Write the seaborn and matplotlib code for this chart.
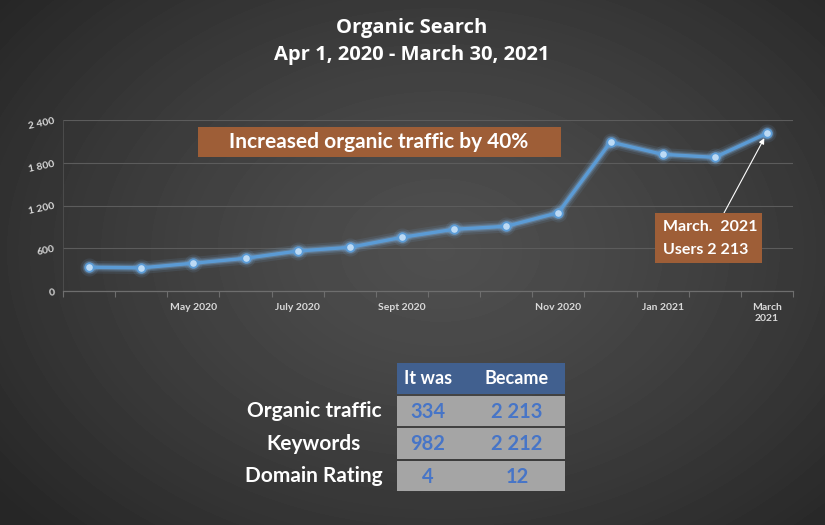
import numpy as np
import pandas as pd
import matplotlib
matplotlib.use("Agg")
import matplotlib.pyplot as plt
from matplotlib.patches import Rectangle
import seaborn as sns

# ---- data ----
months = ["Mar 2020", "Apr 2020", "May 2020", "Jun 2020", "Jul 2020", "Aug 2020",
          "Sep 2020", "Oct 2020", "Oct 2020b", "Nov 2020", "Dec 2020", "Jan 2021",
          "Feb 2021", "Mar 2021"]
users = [334, 325, 390, 459, 561, 613, 753, 866, 908, 1099, 2091, 1918, 1876, 2213]
tick_labels = ["", "", "May 2020", "", "July 2020", "", "Sept 2020", "", "",
               "Nov 2020", "", "Jan 2021", "", "March\n2021"]
y_ticks = [0, 600, 1200, 1800, 2400]

table_rows = ["Organic traffic", "Keywords", "Domain Rating"]
table_cols = ["It was", "Became"]
it_was = [334, 982, 4]
became = [2213, 2212, 12]

title_lines = ["Organic Search", "Apr 1, 2020 - March 30, 2021"]
banner_text = "Increased organic traffic by 40%"


def fmt(v):
    return f"{v:,}".replace(",", " ")


sns.set_theme(style="white")
plt.rcParams["font.family"] = ["Lato", "DejaVu Sans"]

W, H = 825, 525
fig = plt.figure(figsize=(W / 100, H / 100), dpi=100)
fig.patch.set_facecolor("#333333")


def fx(px):
    return px / W


def fy(py):
    return 1 - py / H


# radial dark-grey backdrop
yy, xx = np.mgrid[0:H, 0:W]
r = np.sqrt(((xx - 440) / 560.0) ** 2 + ((yy - 250) / 400.0) ** 2)
shade = 0.31 - 0.16 * np.clip(r, 0, 1) ** 1.3
bg = fig.add_axes([0, 0, 1, 1], zorder=-10)
bg.imshow(shade, cmap="gray", vmin=0, vmax=1, aspect="auto", interpolation="bilinear")
bg.axis("off")

# ---- line chart ----
ax = fig.add_axes([fx(63), fy(291), (793 - 63) / W, (291 - 120) / H])
ax.patch.set_alpha(0)

df = pd.DataFrame({"pos": np.arange(len(months)), "month": months, "users": users})
line_color = "#5B9BD5"
for lw, a in [(9, 0.10), (6, 0.18), (4, 0.30)]:
    sns.lineplot(data=df, x="pos", y="users", ax=ax, color="#7fb6ea", lw=lw, alpha=a,
                 marker="o", markersize=lw + 4, markeredgewidth=0, legend=False)
sns.lineplot(data=df, x="pos", y="users", ax=ax, color=line_color, lw=2.4,
             marker="o", markersize=6, markerfacecolor="#bcdaf5",
             markeredgecolor=line_color, markeredgewidth=1.2, legend=False)

ax.set_xlim(-0.5, len(months) - 0.5)
ax.set_ylim(0, 2400)
ax.set_xlabel("")
ax.set_ylabel("")

ax.set_xticks(np.arange(len(months)))
ax.set_xticklabels(tick_labels)
ax.set_xticks(np.arange(-0.5, len(months), 1), minor=True)
ax.tick_params(axis="x", which="major", length=0, pad=9, labelsize=7.5,
               labelcolor="#d9d9d9")
ax.tick_params(axis="x", which="minor", length=4, width=0.8, color="#6e6e6e",
               direction="out", bottom=True)
for t in ax.get_xticklabels():
    t.set_fontweight("bold")

ax.set_yticks(y_ticks)
ax.set_yticklabels([fmt(v) for v in y_ticks])
ax.tick_params(axis="y", length=0, pad=6, labelsize=7.5, labelcolor="#d9d9d9")
for t in ax.get_yticklabels():
    t.set_fontweight("bold")
    t.set_rotation(12)
    t.set_rotation_mode("anchor")

ax.yaxis.grid(True, color="#5c5c5c", lw=0.8)
ax.xaxis.grid(False)
for side in ["top", "right"]:
    ax.spines[side].set_visible(False)
ax.spines["bottom"].set_color("#6e6e6e")
ax.spines["bottom"].set_linewidth(0.9)
ax.spines["left"].set_color("#505050")
ax.spines["left"].set_linewidth(0.6)

# ---- titles ----
fig.text(fx(412), fy(28), title_lines[0], ha="center", va="center", color="white",
         fontsize=14.5, fontweight="bold", family=["Open Sans", "DejaVu Sans"])
fig.text(fx(412), fy(55), title_lines[1], ha="center", va="center", color="white",
         fontsize=14.5, fontweight="bold", family=["Open Sans", "DejaVu Sans"])

# ---- banner ----
brown = "#9E5E37"
fig.add_artist(Rectangle((fx(198), fy(157)), (561 - 198) / W, 30 / H,
                         transform=fig.transFigure, facecolor=brown, edgecolor="none"))
fig.text(fx(379), fy(142), banner_text, ha="center", va="center", color="white",
         fontsize=15, fontweight="bold")

# ---- callout for the last point ----
fig.add_artist(Rectangle((fx(655), fy(263)), 107 / W, 50 / H,
                         transform=fig.transFigure, facecolor=brown, edgecolor="none"))
fig.text(fx(663), fy(227), "March.  2021", ha="left", va="center", color="white",
         fontsize=11.5, fontweight="bold")
fig.text(fx(663), fy(250), f"Users {fmt(users[-1])}", ha="left", va="center",
         color="white", fontsize=11.5, fontweight="bold")
ax.annotate("", xy=(len(users) - 1, users[-1]), xycoords="data",
            xytext=(fx(724), fy(213)), textcoords="figure fraction",
            arrowprops=dict(arrowstyle="-|>", color="white", lw=0.8,
                            shrinkA=0, shrinkB=4, mutation_scale=8))

# ---- comparison table ----
tx0, tx1 = 397, 565
col_x = [428, 517]
fig.add_artist(Rectangle((fx(tx0), fy(394)), (tx1 - tx0) / W, 31 / H,
                         transform=fig.transFigure, facecolor="#41608F", edgecolor="none"))
for cx, name in zip(col_x, table_cols):
    fig.text(fx(cx), fy(379), name, ha="center", va="center", color="white",
             fontsize=13, fontweight="bold")

row_spans = [(396, 426), (428, 459), (461, 491)]
for (y0, y1), label, a, b in zip(row_spans, table_rows, it_was, became):
    fig.add_artist(Rectangle((fx(tx0), fy(y1)), (tx1 - tx0) / W, (y1 - y0) / H,
                             transform=fig.transFigure, facecolor="#A5A5A5",
                             edgecolor="none"))
    yc = (y0 + y1) / 2 + 1
    fig.text(fx(314), fy(yc - 1), label, ha="center", va="center", color="white",
             fontsize=15, fontweight="bold")
    fig.text(fx(col_x[0]), fy(yc), fmt(a), ha="center", va="center", color="#4775C7",
             fontsize=14.5, fontweight="bold")
    fig.text(fx(col_x[1]), fy(yc), fmt(b), ha="center", va="center", color="#4775C7",
             fontsize=14.5, fontweight="bold")

fig.savefig("out.png", dpi=100, facecolor=fig.get_facecolor())
